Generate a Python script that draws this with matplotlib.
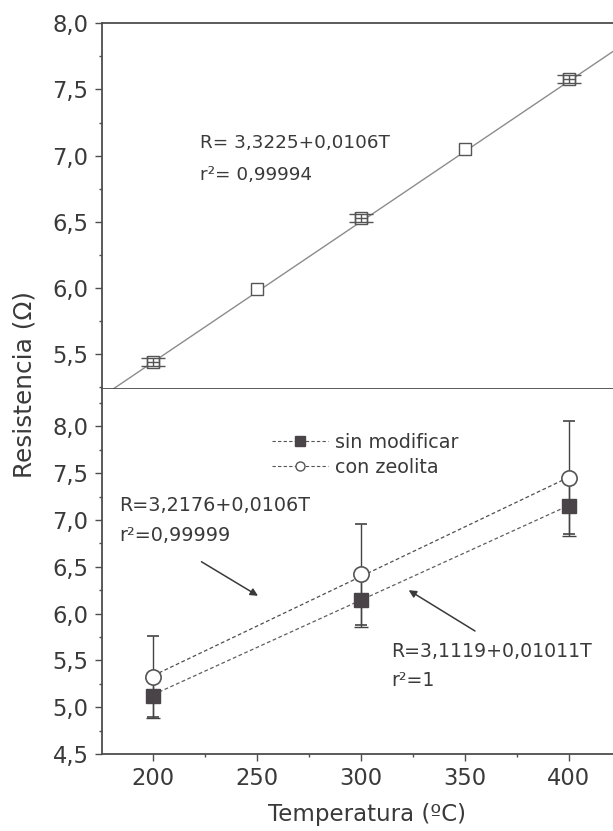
import numpy as np
import matplotlib
matplotlib.use("Agg")
import matplotlib.pyplot as plt
from matplotlib.lines import Line2D
from matplotlib.ticker import FuncFormatter, MultipleLocator

# ---- calibration (upper panel) ----
T_cal = [200, 250, 300, 350, 400]
R_cal = [5.44, 5.99, 6.53, 7.05, 7.58]
T_cal_err = [3.0, 0, 3.0, 0, 3.0]     # only 200/300/400 carry error bars
R_cal_err = [0.03, 0, 0.03, 0, 0.03]
cal_fit = (3.3225, 0.0106)

# ---- sensors (lower panel) ----
T_sens = [200, 300, 400]
R_sin = [5.12, 6.15, 7.15]
R_sin_err = [0.24, 0.29, 0.32]
R_zeo = [5.325, 6.42, 7.454]
R_zeo_err = [0.435, 0.537, 0.60]
sin_fit = (3.1119, 0.01011)
zeo_fit = (3.2176, 0.0106)

XLIM = (175.2, 421.2)
INK = "#3a3a3a"
AXC = "#4d4d4d"

plt.rcParams["font.family"] = ["DejaVu Sans"]
plt.rcParams["text.color"] = INK

fig = plt.figure(figsize=(6.13, 8.31), dpi=100)
ax1 = fig.add_axes([0.1659, 0.5319, 0.8341, 0.4401])
ax2 = fig.add_axes([0.1659, 0.0927, 0.8341, 0.4392])

comma = FuncFormatter(lambda v, _: f"{v:.1f}".replace(".", ","))

for ax in (ax1, ax2):
    ax.set_xlim(*XLIM)
    ax.spines["right"].set_visible(False)
    for s in ("left", "bottom", "top"):
        ax.spines[s].set_color(AXC)
        ax.spines[s].set_linewidth(1.3)
    ax.xaxis.set_major_locator(MultipleLocator(50))
    ax.xaxis.set_minor_locator(MultipleLocator(25))
    ax.yaxis.set_major_locator(MultipleLocator(0.5))
    ax.yaxis.set_minor_locator(MultipleLocator(0.25))
    ax.yaxis.set_major_formatter(comma)
    ax.tick_params(which="major", direction="out", length=5, width=1,
                   color=AXC, labelsize=16.3, labelcolor=INK, pad=4.5)
    ax.tick_params(which="minor", direction="out", length=2.5, width=1, color=AXC)
    ax.tick_params(axis="x", which="both", top=False)
    ax.tick_params(axis="y", which="both", right=False)

ax2.spines["top"].set_visible(False)

# upper panel
ax1.set_ylim(5.238, 8.0)
ax1.tick_params(axis="x", labelbottom=False)
tt = np.linspace(XLIM[0], XLIM[1], 50)
ax1.plot(tt, cal_fit[0] + cal_fit[1] * tt, color="#8c8c8c", lw=1.0, zorder=2)
ax1.plot(T_cal, R_cal, ls="none", marker="s", ms=8.2, mfc="white",
         mec="#555555", mew=1.0, zorder=3)
idx = [i for i, e in enumerate(T_cal_err) if e > 0]
tx = [T_cal[i] for i in idx]
ry = [R_cal[i] for i in idx]
# short x bars with short caps, long flat caps on the y bars -> "#" look
ax1.errorbar(tx, ry, xerr=[T_cal_err[i] for i in idx], fmt="none",
             ecolor="#555555", elinewidth=1.0, capsize=4, capthick=1.0, zorder=4)
ax1.errorbar(tx, ry, yerr=[R_cal_err[i] for i in idx], fmt="none",
             ecolor="#555555", elinewidth=1.0, capsize=8.5, capthick=1.0, zorder=4)
ax1.text(222.3, 7.096, "R= 3,3225+0,0106T", fontsize=13.2, ha="left", va="center")
ax1.text(222.3, 6.854, "r²= 0,99994", fontsize=13.2, ha="left", va="center")

# lower panel
ax2.set_ylim(4.5, 8.4)
ax2.xaxis.set_major_formatter(FuncFormatter(lambda v, _: f"{v:.0f}"))
ts = np.array([T_sens[0], T_sens[-1]])
ax2.plot(ts, zeo_fit[0] + zeo_fit[1] * ts, color="#4f4f4f", lw=0.9,
         ls=(0, (3, 2)), zorder=2)
ax2.plot(ts, sin_fit[0] + sin_fit[1] * ts, color="#5f5f5f", lw=0.9,
         ls=(0, (3, 2)), zorder=2)
ax2.errorbar(T_sens, R_sin, yerr=R_sin_err, fmt="s", ms=10, mfc="#4a4448",
             mec="#4a4448", ecolor="#444444", elinewidth=1.0, capsize=5,
             capthick=1.0, zorder=3)
ax2.errorbar(T_sens, R_zeo, yerr=R_zeo_err, fmt="o", ms=11, mfc="white",
             mec="#555555", mew=1.2, ecolor="#444444", elinewidth=1.0,
             capsize=4.5, capthick=1.0, zorder=4)

ax2.text(183.7, 7.153, "R=3,2176+0,0106T", fontsize=13.8, ha="left", va="center")
ax2.text(183.7, 6.83, "r²=0,99999", fontsize=13.8, ha="left", va="center")
ax2.text(314.4, 5.60, "R=3,1119+0,01011T", fontsize=13.6, ha="left", va="center")
ax2.text(314.4, 5.28, "r²=1", fontsize=13.6, ha="left", va="center")

arrow = dict(arrowstyle="-|>", color=INK, lw=1.1, mutation_scale=11,
             shrinkA=0, shrinkB=0)
ax2.annotate("", xy=(250.4, 6.19), xytext=(223.2, 6.554), arrowprops=arrow)
ax2.annotate("", xy=(322.9, 6.25), xytext=(354.8, 5.814), arrowprops=arrow)

handles = [
    Line2D([], [], color="#555555", lw=0.8, ls=(0, (3, 2)), marker="s",
           ms=6.5, mfc="#4a4448", mec="#4a4448"),
    Line2D([], [], color="#555555", lw=0.8, ls=(0, (3, 2)), marker="o",
           ms=6.5, mfc="white", mec="#555555"),
]
ax2.legend(handles, ["sin modificar", "con zeolita"], loc="upper left",
           bbox_to_anchor=(0.333, 0.88), frameon=False, fontsize=13.8,
           handlelength=2.9, handletextpad=0.4, labelspacing=0.3,
           borderpad=0, borderaxespad=0)

fig.text(25 / 613, 1 - 384 / 831, "Resistencia (Ω)", rotation=90,
         fontsize=17.8, ha="center", va="center")
fig.text(366.5 / 613, 1 - 815 / 831, "Temperatura (ºC)", fontsize=16.5,
         ha="center", va="center")

fig.savefig("out.png", dpi=100)
